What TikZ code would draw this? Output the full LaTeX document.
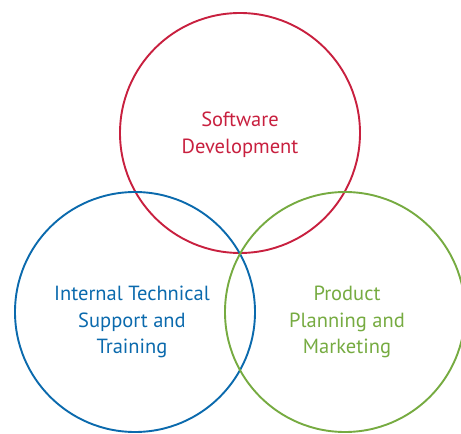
\documentclass[tikz,border=0pt]{standalone}
\usepackage{fontspec}
\setmainfont{PT Sans}
\usetikzlibrary{positioning}
\definecolor{swred}{HTML}{C8203F}
\definecolor{itblue}{HTML}{0B6AAD}
\definecolor{ppgreen}{HTML}{76AB41}
\tikzset{
  venn/.style={circle,line width=1.9pt,minimum size=240pt,inner sep=0pt},
  label/.style={align=center,font=\fontsize{20.5}{26.6}\selectfont}
}
\begin{document}
\begin{tikzpicture}[x=1pt,y=-1pt]
				\useasboundingbox (0,0) rectangle (461,434);
				\clip (0,0) rectangle (461,434);
				\path 
				(240,133) node(soft) [venn,draw=swred] {}
				(135,312) node(supp) [venn,draw=itblue] {}
				(345,312) node(mark) [venn,draw=ppgreen] {};
				\path
				(240,135) node(softtxt) [label,text=swred] {Software\\Development}
				(132,322) node(supptxt) [label,text=itblue] {Internal Technical\\Support and\\Training}
				(347,322) node(marktxt) [label,text=ppgreen] {Product\\Planning and\\Marketing};
			\end{tikzpicture}
\end{document}
